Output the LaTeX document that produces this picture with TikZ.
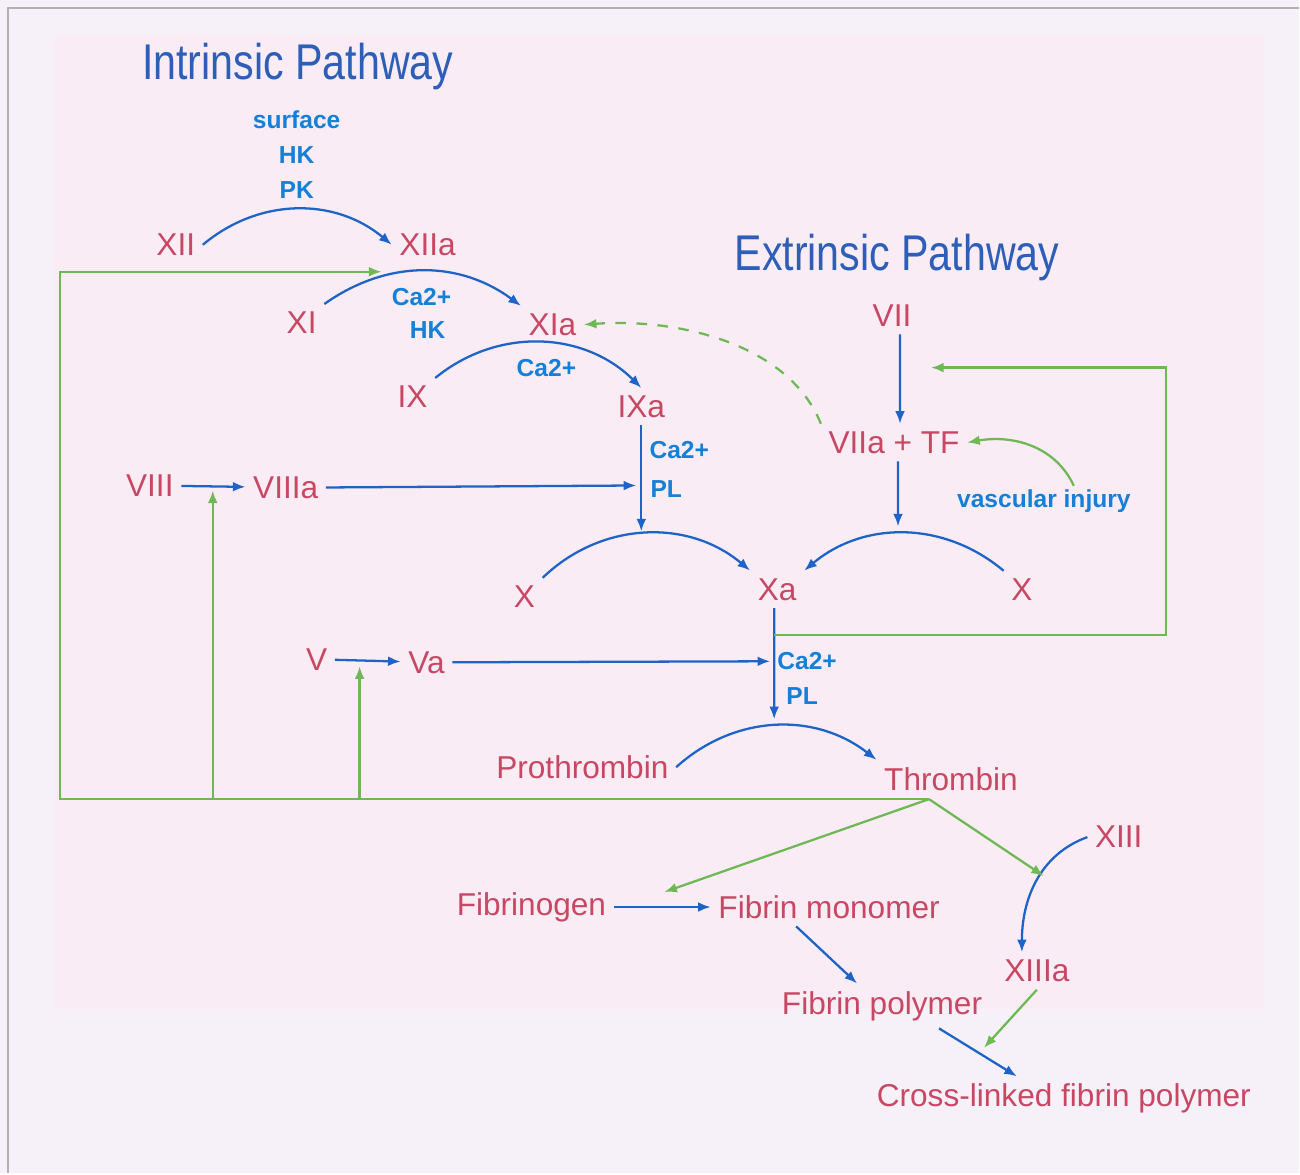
\documentclass[tikz,border=0pt]{standalone}
\usepackage{fontspec}
\setmainfont{Liberation Sans}
\newfontfamily\titlefont[FakeStretch=0.82]{Liberation Sans}
\usetikzlibrary{arrows.meta}

\definecolor{factorred}{RGB}{200,72,100}
\definecolor{cofblue}{RGB}{20,128,215}
\definecolor{convblue}{RGB}{30,100,200}
\definecolor{titleblue}{RGB}{45,95,185}
\definecolor{loopgreen}{RGB}{110,185,85}
\definecolor{pagebg}{RGB}{246,241,248}
\definecolor{panelbg}{RGB}{250,236,245}

\tikzset{
    factor/.style={text=factorred, font=\fontsize{9}{10}\selectfont, inner sep=2pt},
    cofactor/.style={text=cofblue, font=\bfseries\fontsize{7}{8}\selectfont, inner sep=1pt},
    pathtitle/.style={text=titleblue, font=\titlefont\fontsize{14.3}{16}\selectfont},
    conv/.style={draw=convblue, line width=0.65pt, -{Latex[length=3.6pt,width=2.8pt]}},
    feedback/.style={draw=loopgreen, line width=0.65pt, -{Latex[length=3.6pt,width=2.8pt]}}
}

\begin{document}
\begin{tikzpicture}[x=0.1mm, y=-0.1mm]
    % Background and frame
    \fill[pagebg] (0,0) rectangle (1300,1174);
    \fill[panelbg] (55,35) rectangle (1265,1010);
    \draw[gray!60, line width=0.8pt] (8,1174) -- (8,8) -- (1300,8);

    % Titles
    \node[pathtitle] (intr) at (298,67) {Intrinsic Pathway};
    \node[pathtitle] (extr) at (898,258) {Extrinsic Pathway};

    % Factors
    \node[factor] (xii) at (176,245) {XII};
    \node[factor] (xiia) at (428,245) {XIIa};
    \node[factor] (xi) at (302,323) {XI};
    \node[factor] (xia) at (553,325) {XIa};
    \node[factor] (ix) at (413,397) {IX};
    \node[factor] (ixa) at (642,407) {IXa};
    \node[factor] (viii) at (150,486) {VIII};
    \node[factor] (viiia) at (286,488) {VIIIa};
    \node[factor] (xl) at (525,597) {X};
    \node[factor] (xa) at (778,590) {Xa};
    \node[factor] (xr) at (1023,590) {X};
    \node[factor] (vii) at (893,316) {VII};
    \node[factor] (viiatf) at (895,443) {VIIa + TF};
    \node[factor] (v) at (317,660) {V};
    \node[factor] (va) at (427,663) {Va};
    \node[factor] (prothr) at (583,768) {Prothrombin};
    \node[factor] (thr) at (952,780) {Thrombin};
    \node[factor] (xiii) at (1120,838) {XIII};
    \node[factor] (fibgen) at (532,908) {Fibrinogen};
    \node[factor] (fibmono) at (830,908) {Fibrin monomer};
    \node[factor] (xiiia) at (1038,972) {XIIIa};
    \node[factor] (fibpoly) at (883,1007) {Fibrin polymer};
    \node[factor] (crossfib) at (1065,1100) {Cross-linked fibrin polymer};

    % Cofactors
    \node[cofactor] (surf) at (297,120) {surface};
    \node[cofactor] (hkxii) at (297,155) {HK};
    \node[cofactor] (pk) at (297,190) {PK};
    \node[cofactor] (caxi) at (422,297) {Ca2+};
    \node[cofactor] (hkxi) at (428,330) {HK};
    \node[cofactor] (caix) at (547,368) {Ca2+};
    \node[cofactor] (caixa) at (680,451) {Ca2+};
    \node[cofactor] (plixa) at (667,490) {PL};
    \node[cofactor] (caxa) at (808,662) {Ca2+};
    \node[cofactor] (plxa) at (803,697) {PL};
    \node[cofactor] (vasc) at (1045,502) {vascular injury};

    % Join points on lines
    \coordinate (ixjoin) at (637,486);
    \coordinate (intrjoin) at (642,532);
    \coordinate (extrjoin) at (899,527);
    \coordinate (xajoin) at (771,662);
    \coordinate (thrjoin) at (775,720);
    \coordinate (thrfoot) at (930,800);
    \coordinate (loopleft) at (60,800);
    \coordinate (xiijoin) at (382,272);
    \coordinate (viiifoot) at (213,800);
    \coordinate (viiijoin) at (213,491);
    \coordinate (vfoot) at (360,800);
    \coordinate (vjoin) at (360,667);
    \coordinate (xafoot) at (775,636);
    \coordinate (loopright) at (1167,636);
    \coordinate (viijoin) at (932,368);
    \coordinate (fibjoin) at (665,893);
    \coordinate (xiiijoin) at (1045,877);
    \coordinate (xljoin) at (985,1049);

    % Activation steps
    \draw[conv] (xii.east) to[bend left=40] (xiia.west);
    \draw[conv] (xi.north east) to[bend left=36] (xia.north west);
    \draw[conv] (ix.north east) to[bend left=42] (ixa.north);
    \draw[conv] (ixa.south) -- (intrjoin);
    \draw[conv] (viii) -- (viiia);
    \draw[conv] (viiia.east) -- (ixjoin);
    \draw[conv] (xl.north east) to[bend left=42] (xa.north west);
    \draw[conv] (xr.north west) to[bend right=40] (xa.north east);
    \draw[conv] ([xshift=0.8mm]vii.south) -- ([xshift=0.6mm]viiatf.north);
    \draw[conv] ([xshift=0.4mm]viiatf.south) -- (extrjoin);
    \draw[conv] ([xshift=-0.3mm]xa.south) -- (thrjoin);
    \draw[conv] (v) -- (va);
    \draw[conv] (va.east) -- (xajoin);
    \draw[conv] (prothr.east) to[bend left=40] (thr.north west);
    \draw[conv] (fibgen) -- (fibmono);
    \draw[conv] ([xshift=-3.3mm]fibmono.south) -- ([xshift=-2.5mm]fibpoly.north);
    \draw[conv] ([xshift=5.7mm]fibpoly.south) -- ([xshift=-4.7mm]crossfib.north);
    \draw[conv] (xiii.west) to[out=200, in=90] ([xshift=-1.5mm]xiiia.north);

    % Feedback loops
    \draw[feedback] (thrfoot) -- (loopleft) |- (xiijoin);
    \draw[feedback] (viiifoot) -- (viiijoin);
    \draw[feedback] (vfoot) -- (vjoin);
    \draw[feedback] (xafoot) -- (loopright) |- (viijoin);
    \draw[feedback, dashed] (viiatf.north west) .. controls (790,345) and (680,318) .. (xia.east);
    \draw[feedback] ([xshift=3mm]vasc.north) to[out=115, in=10] (viiatf.east);
    \draw[feedback] (thrfoot) -- (fibjoin);
    \draw[feedback] (thrfoot) -- (xiiijoin);
    \draw[feedback] (xiiia.south) -- (xljoin);
\end{tikzpicture}
\end{document}
